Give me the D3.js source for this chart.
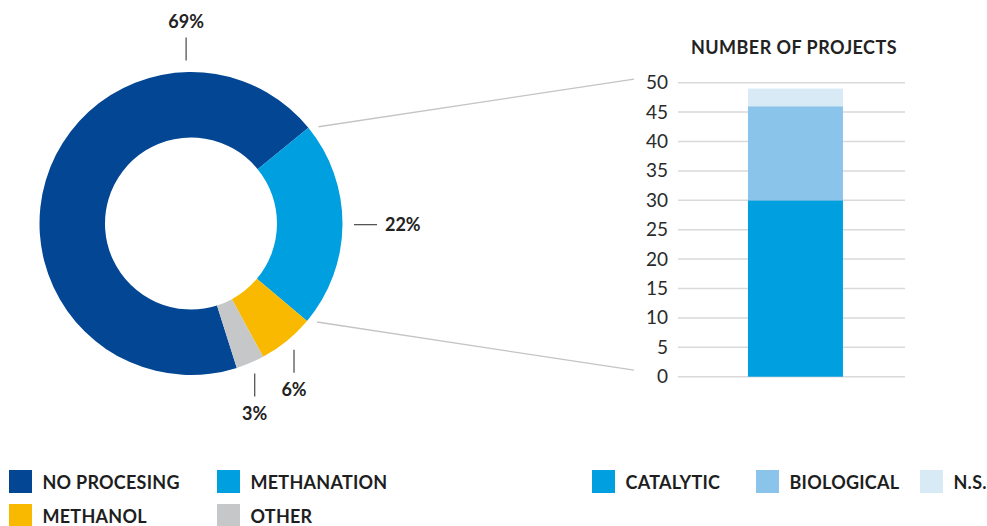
<!DOCTYPE html>
<html>
<head>
<meta charset="utf-8">
<script src="https://cdn.jsdelivr.net/npm/d3@7"></script>
<style>
  html, body { margin: 0; padding: 0; background: #fff; }
  svg { display: block; font-family: Lato, "Open Sans", sans-serif; }
</style>
</head>
<body>
<svg id="chart" width="987" height="526"></svg>
<script>
// Share of projects by processing route (donut)
const routes = ["NO PROCESING", "METHANATION", "METHANOL", "OTHER"];
const routeShares = [69, 22, 6, 3];
const routeColors = ["#034694", "#009fdf", "#f9b900", "#c6c7c8"];

// Methanation projects by type (stacked bar)
const methTypes = ["CATALYTIC", "BIOLOGICAL", "N.S."];
const methCounts = [30, 16, 3];
const methColors = ["#009fdf", "#8ac4ea", "#d9eaf7"];

const yTicks = [0, 5, 10, 15, 20, 25, 30, 35, 40, 45, 50];

const svg = d3.select("#chart");
const deg = Math.PI / 180;

// ---- Donut ----
const cx = 191, cy = 223.5;
const rOuter = 151.5, rInner = 86;
const methStart = 50.8 * deg; // methanation wedge starts here
const pieStart = methStart - (routeShares[0] / d3.sum(routeShares)) * 2 * Math.PI;

const pie = d3.pie().sort(null).value(d => d.value)
  .startAngle(pieStart).endAngle(pieStart + 2 * Math.PI);
const arcs = pie(routes.map((name, i) => ({ name, value: routeShares[i], color: routeColors[i] })));
const arc = d3.arc().innerRadius(rInner).outerRadius(rOuter);

const donut = svg.append("g").attr("transform", `translate(${cx},${cy})`);
donut.selectAll("path.slice").data(arcs).join("path")
  .attr("class", "slice")
  .attr("d", arc)
  .attr("fill", d => d.data.color);

// value labels with short leader ticks
const maxShare = d3.max(routeShares);
const tickR = 163, tickLen = 23;
arcs.forEach(d => {
  // the largest wedge is labelled at the top of the ring, others at their middle
  const a = d.data.value === maxShare ? -0.03 : (d.startAngle + d.endAngle) / 2;
  const x0 = tickR * Math.sin(a), y0 = -tickR * Math.cos(a);
  let x1 = x0, y1 = y0, tx, ty, anchor;
  if (Math.abs(Math.sin(a)) > 0.9) {
    x1 = x0 + tickLen * Math.sign(Math.sin(a));
    tx = x1 + 8; ty = y0 + 6.5; anchor = "start";
  } else if (Math.cos(a) > 0) {
    y1 = y0 - tickLen;
    tx = x0; ty = y1 - 9.5; anchor = "middle";
  } else {
    y1 = y0 + tickLen;
    tx = x0; ty = y1 + 23.5; anchor = "middle";
  }
  donut.append("line")
    .attr("x1", x0).attr("y1", y0).attr("x2", x1).attr("y2", y1)
    .attr("stroke", "#555").attr("stroke-width", 1.3);
  donut.append("text")
    .attr("x", tx).attr("y", ty)
    .attr("text-anchor", anchor)
    .attr("font-size", 18).attr("font-weight", 700).attr("fill", "#222")
    .text(d.data.value + "%");
});

// ---- Stacked bar ----
const y = d3.scaleLinear().domain([0, 50]).range([376.7, 82.7]);
const x = d3.scaleBand().domain(["methanation"]).range([678, 905])
  .paddingInner(0.41).paddingOuter(0.41).align(0.53);

const bar = svg.append("g");

// horizontal gridlines
bar.selectAll("line.grid").data(yTicks).join("line")
  .attr("class", "grid")
  .attr("x1", 678).attr("x2", 905)
  .attr("y1", d => y(d)).attr("y2", d => y(d))
  .attr("stroke", "#d9d9d9").attr("stroke-width", 1.5);

// y axis labels
const yAxis = d3.axisLeft(y).tickValues(yTicks).tickSize(0).tickPadding(0);
const axisG = bar.append("g").attr("transform", "translate(668,0)").call(yAxis);
axisG.select(".domain").remove();
axisG.selectAll("text")
  .attr("font-family", "Lato, sans-serif")
  .attr("font-size", 19).attr("fill", "#2a2a2a");

// stacked segments
const stackRow = {};
methTypes.forEach((t, i) => stackRow[t] = methCounts[i]);
const series = d3.stack().keys(methTypes)([stackRow]);
bar.selectAll("rect.seg").data(series).join("rect")
  .attr("class", "seg")
  .attr("x", x("methanation"))
  .attr("width", x.bandwidth())
  .attr("y", d => y(d[0][1]))
  .attr("height", d => y(d[0][0]) - y(d[0][1]))
  .attr("fill", (d, i) => methColors[i]);

// chart title
svg.append("text")
  .attr("x", 794).attr("y", 54)
  .attr("text-anchor", "middle")
  .attr("font-size", 18).attr("font-weight", 700).attr("fill", "#222")
  .attr("letter-spacing", 0.45)
  .text("NUMBER OF PROJECTS");

// connectors from the methanation wedge to the bar axis
const methArc = arcs[1];
const connR = 160, inset = 2 * deg;
const pts = [
  [methArc.startAngle + inset, y(50) - 3.5],
  [methArc.endAngle - inset, y(0) - 6.5]
];
pts.forEach(([a, yEnd]) => {
  svg.append("line")
    .attr("x1", cx + connR * Math.sin(a)).attr("y1", cy - connR * Math.cos(a))
    .attr("x2", 634).attr("y2", yEnd)
    .attr("stroke", "#c4c4c4").attr("stroke-width", 1.3);
});

// ---- Legends ----
function legend(items, colors, positions) {
  items.forEach((name, i) => {
    const [lx, ly] = positions[i];
    const g = svg.append("g").attr("transform", `translate(${lx},${ly})`);
    g.append("rect").attr("width", 23).attr("height", 23).attr("fill", colors[i]);
    g.append("text")
      .attr("x", 33.5).attr("y", 18.5)
      .attr("font-size", 18).attr("font-weight", 700).attr("fill", "#1e1e1e")
      .attr("letter-spacing", 0.25)
      .text(name);
  });
}
legend(routes, routeColors, [[9, 470], [217, 470], [9, 504], [217, 504]]);
legend(methTypes, methColors, [[592, 470], [756, 470], [920, 470]]);
</script>
</body>
</html>
